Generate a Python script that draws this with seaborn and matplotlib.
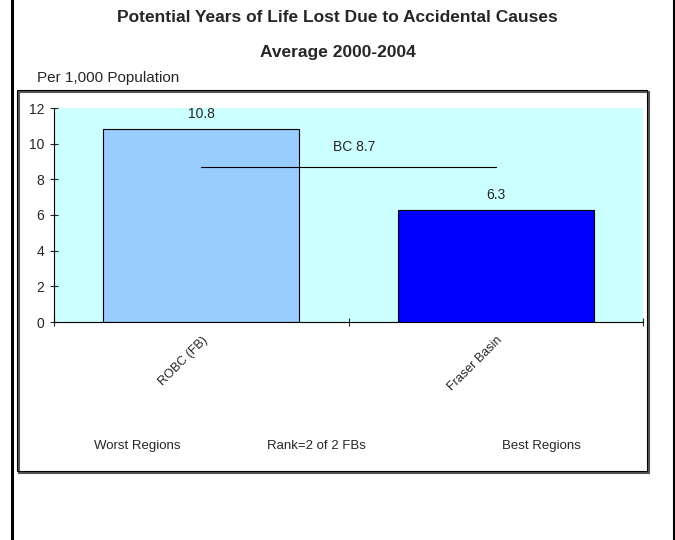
import matplotlib
matplotlib.use('Agg')
import pandas as pd
import seaborn as sns
import matplotlib.pyplot as plt
from matplotlib.patches import Rectangle
from matplotlib.lines import Line2D

sns.set_style('white')
plt.rcParams['font.family'] = ['Liberation Sans', 'DejaVu Sans']

# data
regions = ['ROBC (FB)', 'Fraser Basin']
pyll = [10.8, 6.3]
bar_colors = ['#99CCFF', '#0000FF']
bc_value = 8.7
y_ticks = [0, 2, 4, 6, 8, 10, 12]

df = pd.DataFrame({'region': regions, 'value': pyll})

fig = plt.figure(figsize=(6.75, 5.4), dpi=100)
ax = fig.add_axes([54 / 675, 1 - 322 / 540, (643 - 54) / 675, (322 - 108) / 540])

sns.barplot(data=df, x='region', y='value', hue='region', palette=bar_colors,
            saturation=1, width=0.666, edgecolor='black', linewidth=0.8,
            legend=False, ax=ax)
ax.set_facecolor('#CCFFFF')
ax.set_xlim(-0.5, 1.5)
ax.set_ylim(0, 12)
ax.set_xlabel('')
ax.set_ylabel('')

# value labels
for i, v in enumerate(pyll):
    ax.text(i, v + 0.45, f'{v:.1f}', ha='center', va='bottom', fontsize=10)

# BC average line
ax.plot([0, 1], [bc_value, bc_value], color='black', lw=0.8)
ax.text(0.52, bc_value + 0.7, f'BC {bc_value}', ha='center', va='bottom', fontsize=10)

# axes styling
for s in ['top', 'right']:
    ax.spines[s].set_visible(False)
for s in ['left', 'bottom']:
    ax.spines[s].set_linewidth(0.8)
    ax.spines[s].set_color('black')
ax.set_yticks(y_ticks)
ax.set_yticklabels([str(t) for t in y_ticks], fontsize=10)
ax.tick_params(axis='y', direction='inout', length=6, width=0.8, pad=4, left=True)
ax.set_xticks([-0.5, 0.5, 1.5])
ax.set_xticklabels(['', '', ''])
ax.tick_params(axis='x', which='major', direction='inout', length=6, width=0.8, bottom=True)
ax.set_xticks([0, 1], minor=True)
ax.set_xticklabels(regions, minor=True, rotation=45, ha='right',
                   rotation_mode='anchor', fontsize=9)
ax.tick_params(axis='x', which='minor', length=0, pad=9)

# titles and notes
fig.text(0.5, 1 - 18 / 540, 'Potential Years of Life Lost Due to Accidental Causes',
         ha='center', va='center', fontsize=12.5, fontweight='bold')
fig.text(0.5, 1 - 53 / 540, 'Average 2000-2004', ha='center', va='center',
         fontsize=12.5, fontweight='bold')
fig.text(37 / 675, 1 - 78 / 540, 'Per 1,000 Population', ha='left', va='center', fontsize=11)

fig.text(137 / 675, 1 - 446 / 540, 'Worst Regions', ha='center', va='center', fontsize=9.5)
fig.text(316 / 675, 1 - 446 / 540, 'Rank=2 of 2 FBs', ha='center', va='center', fontsize=9.5)
fig.text(541 / 675, 1 - 446 / 540, 'Best Regions', ha='center', va='center', fontsize=9.5)

# inner frame with shadow
fig.patches.append(Rectangle((19 / 675, 1 - 473 / 540), (649 - 19) / 675, (473 - 92) / 540,
                             transform=fig.transFigure, fill=False, edgecolor='#555555', lw=1.5))
fig.patches.append(Rectangle((17 / 675, 1 - 471 / 540), (647 - 17) / 675, (471 - 90) / 540,
                             transform=fig.transFigure, fill=False, edgecolor='black', lw=0.8))

# outer side rules
fig.lines.append(Line2D([12 / 675, 12 / 675], [0, 1], transform=fig.transFigure, color='black', lw=2.2))
fig.lines.append(Line2D([674 / 675, 674 / 675], [0, 1], transform=fig.transFigure, color='black', lw=2.2))

fig.savefig('out.png', dpi=100)
